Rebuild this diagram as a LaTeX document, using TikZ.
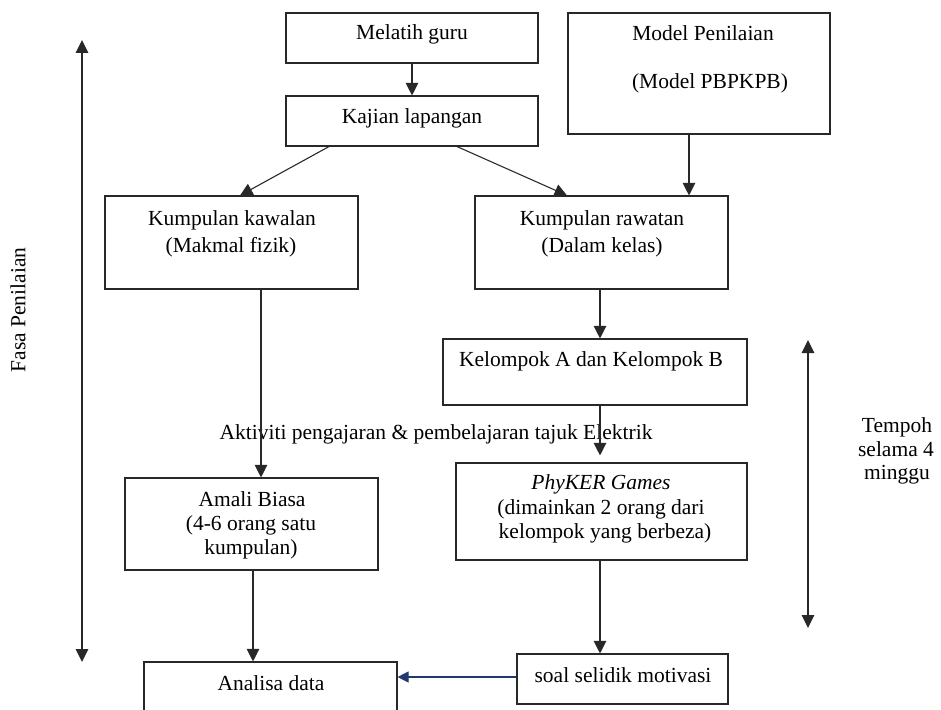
\documentclass[tikz,border=0pt]{standalone}
\usepackage{fontspec}
\setmainfont{Liberation Serif}
\usetikzlibrary{arrows.meta}
\definecolor{navyline}{RGB}{31,56,110}
\definecolor{inkline}{RGB}{40,40,40}
\begin{document}
\begin{tikzpicture}[x=1pt,y=-1pt,
  box/.style={draw=inkline,line width=1.1pt,inner sep=0pt,rectangle},
  txt/.style={inner sep=0pt,anchor=base,font=\fontsize{21.5}{25}\selectfont},
  arr/.style={draw=inkline,line width=1.1pt,-{Triangle[length=12.5pt,width=12.5pt]}},
  dbl/.style={draw=inkline,line width=1.1pt,{Triangle[length=13pt,width=12.5pt]}-{Triangle[length=13pt,width=12.5pt]}}]
\useasboundingbox (0,0) rectangle (941,709);

% boxes
\node[box,minimum width=252pt,minimum height=50pt] (mel) at (412,38) {};
\node[box,minimum width=252pt,minimum height=50pt] (kaj) at (412,121) {};
\node[box,minimum width=262pt,minimum height=121pt] (mod) at (699,73.5) {};
\node[box,minimum width=253pt,minimum height=93pt] (kaw) at (231.5,242.5) {};
\node[box,minimum width=253pt,minimum height=93pt] (raw) at (601.5,242.5) {};
\node[box,minimum width=304pt,minimum height=66pt] (kel) at (595,372) {};
\node[box,minimum width=253pt,minimum height=92pt] (ama) at (251.5,524) {};
\node[box,minimum width=291pt,minimum height=97pt] (phy) at (601.5,511.5) {};
\node[box,minimum width=253pt,minimum height=58pt] (ana) at (270.5,691) {};
\node[box,minimum width=211pt,minimum height=50pt] (soal) at (622.5,679) {};

% box texts
\node[txt] (tmel) at (412,40) {Melatih guru};
\node[txt] (tkaj) at (412,123) {Kajian lapangan};
\node[txt] (tmod1) at (703,41) {Model Penilaian};
\node[txt] (tmod2) at (710,88) {(Model PBPKPB)};
\node[txt] (tkaw1) at (232,225) {Kumpulan kawalan};
\node[txt] (tkaw2) at (231,252) {(Makmal fizik)};
\node[txt] (traw1) at (602,225) {Kumpulan rawatan};
\node[txt] (traw2) at (602,252) {(Dalam kelas)};
\node[txt] (tkel) at (591,366) {Kelompok A dan Kelompok B};
\node[txt] (tama1) at (252,506) {Amali Biasa};
\node[txt] (tama2) at (251,530) {(4-6 orang satu};
\node[txt] (tama3) at (251,554) {kumpulan)};
\node[txt] (tphy1) at (601,489) {\itshape PhyKER Games};
\node[txt] (tphy2) at (601,514) {(dimainkan 2 orang dari};
\node[txt] (tphy3) at (605,538) {kelompok yang berbeza)};
\node[txt] (tana) at (271,690) {Analisa data};
\node[txt] (tsoal) at (623,682) {soal selidik motivasi};

% free labels
\node[txt] (akt) at (436,439) {Aktiviti pengajaran \& pembelajaran tajuk Elektrik};
\node[txt] (tem1) at (897,432) {Tempoh};
\node[txt] (tem2) at (896,456) {selama 4};
\node[txt] (tem3) at (897,479) {minggu};
\node[inner sep=0pt,rotate=90,font=\fontsize{21.5}{25}\selectfont] (fasa) at (18,310) {Fasa Penilaian};

% flow connectors
\draw[arr] (mel.south) -- (kaj.north);
\draw[arr] ([xshift=-83pt]kaj.south) -- ([xshift=8.5pt]kaw.north);
\draw[arr] ([xshift=45pt]kaj.south) -- ([xshift=-34.5pt]raw.north);
\draw[arr] ([xshift=-10pt]mod.south) -- ([xshift=-10pt]mod.south |- raw.north);
\draw[arr] ([xshift=-1.5pt]raw.south) -- ([xshift=-1.5pt]raw.south |- kel.north);
\draw[arr,shorten >=7pt] ([xshift=5pt]kel.south) -- ([xshift=5pt]kel.south |- phy.north);
\draw[arr] ([xshift=29.5pt]kaw.south) -- ([xshift=29.5pt]kaw.south |- ama.north);
\draw[arr] ([xshift=1.5pt]ama.south) -- ([xshift=1.5pt]ama.south |- ana.north);
\draw[arr] ([xshift=-1.5pt]phy.south) -- ([xshift=-1.5pt]phy.south |- soal.north);
\draw[arr,draw=navyline,-{Triangle[length=11pt,width=11pt]},navyline] ([yshift=2pt]soal.west) -- ([yshift=2pt]soal.west -| ana.east);

% phase and duration arrows
\coordinate (fa1) at (82,40);
\coordinate (fa2) at (82,662);
\draw[dbl] (fa1) -- (fa2);
\coordinate (te1) at (808,340);
\coordinate (te2) at (808,628);
\draw[dbl] (te1) -- (te2);
\end{tikzpicture}
\end{document}
